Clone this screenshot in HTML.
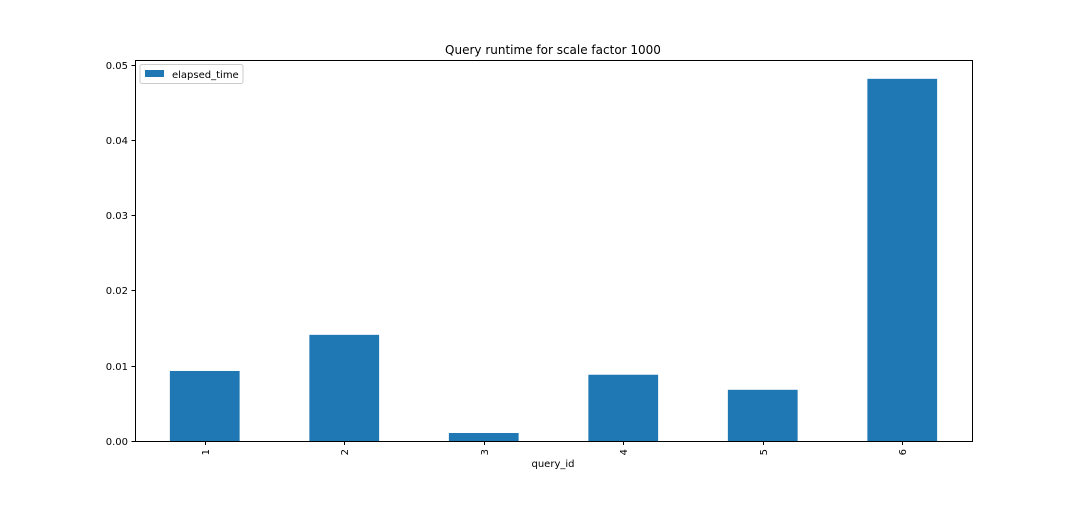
<!DOCTYPE html>
<html><head><meta charset="utf-8"><style>
body{margin:0;background:#fff;}
svg text{font-family:"DejaVu Sans","Liberation Sans",sans-serif;fill:#000;}
</style></head><body>
<svg id="chart" width="1080" height="504" xmlns="http://www.w3.org/2000/svg">
<rect width="1080" height="504" fill="#fff"/>
<text x="553" y="54" font-size="12" text-anchor="middle">Query runtime for scale factor 1000</text>
<g id="bars"></g>
<g id="axes"></g>
<text x="553" y="467" font-size="10" text-anchor="middle">query_id</text>
<g>
<rect x="140" y="64.5" width="103" height="19" rx="2" fill="#fff" stroke="#ccc"/>
<rect x="145" y="70" width="19" height="7" fill="#1f77b4"/>
<text x="172" y="78" font-size="10">elapsed_time</text>
</g>
</svg>
<script>
const categories = ["1","2","3","4","5","6"];
const values = [0.0093, 0.0141, 0.00106, 0.0088, 0.0068, 0.0481];
const yTicks = [0, 0.01, 0.02, 0.03, 0.04, 0.05];
const yTickLabels = ["0.00","0.01","0.02","0.03","0.04","0.05"];

const L=135, R=972, T=60, B=441, yMax=0.0506;
const ns="http://www.w3.org/2000/svg";
const y = v => B - v/yMax*(B-T);
const step=(R-L)/categories.length;
const x = i => L + step*(i+0.5);
const bw = step*0.5;
const bars=document.getElementById('bars'), axes=document.getElementById('axes');
function mk(tag, attrs, parent){const e=document.createElementNS(ns,tag);for(const k in attrs)e.setAttribute(k,attrs[k]);parent.appendChild(e);return e;}
values.forEach((v,i)=>{
  const r=mk('rect',{x:x(i)-bw/2,y:y(v),width:bw,height:B-y(v),fill:'#1f77b4'},bars);
  
  
});
const frame=mk('rect',{x:L+0.5,y:T+0.5,width:R-L,height:B-T,fill:'none',stroke:'#000','stroke-width':1},axes);


yTicks.forEach((t,i)=>{
  const yy=Math.round(y(t))+0.5;
  mk('line',{x1:L-3.5,x2:L+0.5,y1:yy,y2:yy,stroke:'#000'},axes);
  const tx=mk('text',{x:L-7,y:yy+3.5,'font-size':10,'text-anchor':'end'},axes);
  tx.textContent=yTickLabels[i];
  
  
});
categories.forEach((c,i)=>{
  const xx=Math.round(x(i))+0.5;
  mk('line',{x1:xx,x2:xx,y1:B+0.5,y2:B+4,stroke:'#000'},axes);
  const tx=mk('text',{x:0,y:0,'font-size':10,'text-anchor':'end',transform:`translate(${xx+3.5},${B+8}) rotate(-90)`},axes);
  tx.textContent=c;
  
  
});
</script>
</body></html>
